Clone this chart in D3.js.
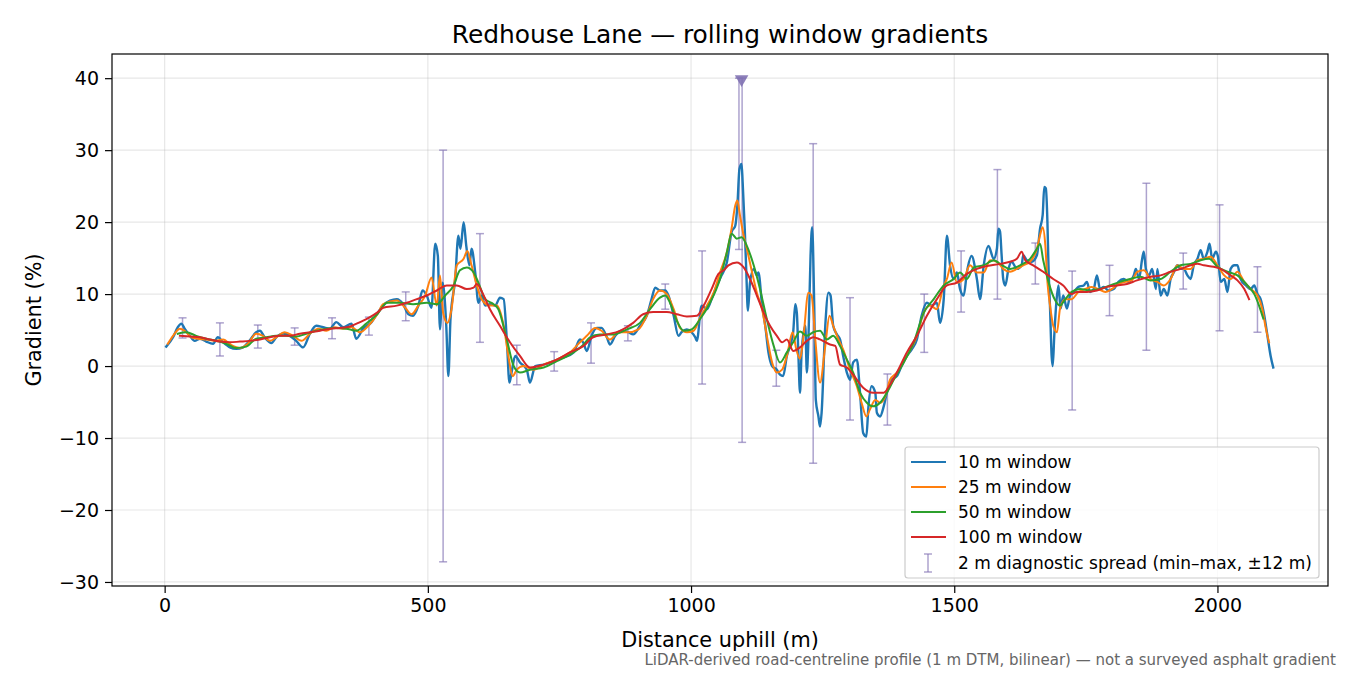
<!DOCTYPE html>
<html>
<head>
<meta charset="utf-8">
<script src="https://cdnjs.cloudflare.com/ajax/libs/d3/7.8.5/d3.min.js"></script>
<style>
body { margin: 0; background: #fff; }
text { font-family: "DejaVu Sans", sans-serif; }
</style>
</head>
<body>
<script>
// gradient (%) against distance uphill (m)
var win10 = [[3,2.7],[16,4.0],[25,5.4],[32,5.9],[38,5.2],[48,4.2],[57,3.5],[67,3.8],[79,3.4],[92,3.1],[101,4.0],[111,3.3],[124,2.6],[136,2.4],[149,2.6],[161,3.5],[174,4.7],[181,4.9],[190,4.0],[203,3.2],[212,4.0],[225,4.5],[238,4.2],[250,3.5],[263,2.6],[276,4.5],[288,5.6],[301,5.4],[314,5.2],[326,6.1],[339,5.4],[355,5.9],[364,3.8],[377,5.2],[393,6.1],
  [403,7.2],[415,8.4],[428,9.1],[441,9.3],[453,8.6],[463,7.2],[472,7.0],[482,8.4],[490,10.5],[498,9.8],[507,8.1],[514,17.0],[519,15.3],[523,5.1],[528,11.6],[535,5.6],[539,-1.4],[543,6.5],[552,12.1],[558,18.1],[562,16.3],[568,20.0],[573,16.7],[579,14.0],[583,16.3],[590,13.0],[596,8.8],[602,9.8],[609,8.4],[618,8.6],[628,8.4],[637,9.5],[644,9.3],[650,3.7],[655,-2.3],[659,-0.9],[666,1.4],[675,0.5],[688,-0.5],[694,-2.3],[704,0],[720,0.2],[739,0.7],[758,1.2],[777,1.9],
  [789,3.7],[795,3.3],[802,2.1],[811,4.2],[821,5.3],[830,5.3],[840,4.0],[846,3.0],[856,4.2],[868,4.9],[881,4.7],[890,4.4],[903,5.6],[916,7.0],[925,9.3],[932,10.9],[941,10.5],[951,10.5],[957,9.8],[967,7.0],[976,4.2],[982,4.7],[992,5.1],[1001,4.7],[1008,4.0],[1011,3.5],[1020,8.4],[1030,7.9],[1039,9.3],[1049,11.2],[1058,12.6],[1068,14.4],[1077,18.6],[1084,19.5],[1088,22.3],[1092,27.4],[1096,28.1],[1098,25.6],[1102,19.1],[1105,13.0],[1108,7.7],[1112,11.6],[1119,13.5],[1125,12.6],[1128,13.0],[1135,8.4],[1141,5.6],[1147,1.9],[1154,0],[1163,-0.5],
  [1169,-1.2],[1175,-1.4],[1182,1.4],[1188,2.8],[1194,4.7],[1198,8.6],[1201,7.4],[1204,1.4],[1207,-3.7],[1210,1.9],[1217,5.6],[1220,-0.9],[1223,3.7],[1227,15.3],[1230,19.3],[1234,8.4],[1237,-4.7],[1242,-7.0],[1245,-8.4],[1248,-6.5],[1255,5.6],[1261,10.2],[1265,9.8],[1270,5.6],[1277,4.4],[1283,3.7],[1289,1.4],[1296,-0.9],[1302,-1.9],[1308,0.5],[1315,0.9],[1321,-3.7],[1327,-9.3],[1333,-9.8],[1337,-5.6],[1343,-2.8],[1350,-3.7],[1353,-6.5],[1359,-7.0],[1366,-5.6],[1372,-3.7],[1381,-1.9],[1391,-1.4],[1400,0],[1410,1.4],[1419,2.3],[1429,3.7],[1438,7.0],[1448,8.8],[1457,8.4],[1467,8.8],[1473,6.0],[1480,9.3],[1486,18.1],[1492,14.0],[1499,12.1],[1505,13.0],[1511,10.7],[1518,9.8],[1524,13.0],[1533,15.3],[1543,12.1],[1549,9.3],[1556,14.0],[1565,16.7],[1575,14.9],
  [1581,16.3],[1584,19.1],[1587,18.7],[1590,15.4],[1593,12.1],[1597,11.2],[1603,13.5],[1609,14.5],[1619,13.5],[1628,14.0],[1631,15.4],[1638,14.7],[1647,14.5],[1657,15.4],[1663,19.1],[1668,21.0],[1671,24.9],[1674,24.7],[1677,20.0],[1679,14.0],[1682,8.0],[1685,1.4],[1687,0],[1690,4.2],[1694,8.9],[1698,11.2],[1702,8.0],[1707,9.8],[1714,8.0],[1720,9.8],[1727,10.3],[1736,11.0],[1746,11.2],[1752,11.7],[1758,10.3],[1765,10.7],[1771,12.6],[1777,10.7],[1784,11.0],[1793,10.5],[1803,10.7],[1812,11.7],[1822,12.1],[1831,11.7],[1841,12.6],
  [1845,13.5],[1851,12.1],[1857,14.9],[1860,15.9],[1864,13.5],[1870,12.6],[1876,13.5],[1883,10.7],[1886,13.5],[1892,9.8],[1898,10.7],[1905,9.8],[1911,12.1],[1917,13.0],[1924,14.0],[1930,13.5],[1936,13.5],[1943,12.6],[1949,12.1],[1955,14.0],[1962,14.9],[1968,16.1],[1974,14.9],[1981,15.9],[1985,17.0],[1990,14.9],[1997,15.9],[2001,15.2],[2006,11.7],[2013,12.1],[2019,10.3],[2025,13.5],[2032,14.0],[2038,14.0],[2044,12.1],[2054,11.2],[2063,10.7],[2070,11.2],[2076,10.0],[2082,9.3],[2089,7.0],[2095,4.2],[2101,1.4],[2106,-0.2]];

var win25 = [[6,3.1],[16,4.2],[29,5.2],[38,4.9],[51,4.0],[63,3.8],[79,3.7],[95,3.5],[111,3.7],[127,2.9],[143,2.5],[158,3.1],[174,4.5],[187,4.2],[200,3.5],[212,4.0],[228,4.7],[244,4.2],[260,3.5],[276,4.5],[292,5.2],[307,4.9],[323,5.4],[339,5.2],[355,5.4],[371,4.7],[387,5.6],
  [405,7.3],[415,8.6],[441,9.1],[457,8.1],[469,7.2],[482,8.4],[495,9.8],[507,12.3],[517,8.4],[523,12.6],[529,7.4],[537,6.0],[545,7.9],[555,14.0],[568,14.9],[575,16.0],[583,14.0],[593,11.2],[602,9.3],[618,8.4],[631,8.4],[644,5.6],[653,1.4],[661,-1.4],[669,-0.5],[682,0],[701,-0.5],[720,0.2],[745,0.9],[770,1.9],[789,3.3],
  [802,4.2],[818,5.3],[830,4.9],[846,3.7],[862,4.7],[881,4.7],[900,5.1],[916,7.0],[928,9.3],[941,10.5],[954,10.0],[967,7.9],[979,5.3],[992,4.7],[1005,4.9],[1017,6.7],[1030,8.4],[1043,10.2],[1055,13.0],[1068,15.8],[1077,19.1],[1084,22.3],[1088,23.0],[1093,20.9],[1100,18.1],[1106,16.3],[1116,13.0],[1125,10.2],[1135,7.9],[1144,4.2],[1154,0.5],[1163,-0.9],
  [1173,-0.5],[1182,1.4],[1193,4.7],[1200,2.3],[1207,1.0],[1213,3.7],[1223,10.2],[1229,9.8],[1236,3.7],[1245,-2.3],[1255,2.8],[1263,7.0],[1270,5.6],[1280,3.7],[1289,2.3],[1302,-0.5],[1315,-2.8],[1324,-5.1],[1333,-7.0],[1340,-6.0],[1350,-4.7],[1359,-5.1],[1369,-4.2],[1378,-1.9],[1391,-0.9],[1410,1.4],[1429,4.2],[1442,7.4],[1454,8.4],[1467,7.9],[1480,11.2],[1486,12.1],[1495,14.4],[1505,11.6],[1518,12.1],[1530,14.0],[1543,13.0],[1556,13.0],[1568,14.7],
  [1581,14.5],[1593,13.5],[1606,13.1],[1619,13.5],[1631,14.0],[1644,14.5],[1657,16.3],[1663,18.2],[1668,19.3],[1673,16.8],[1677,11.7],[1682,8.4],[1688,5.6],[1695,4.7],[1701,8.0],[1711,9.3],[1723,9.3],[1736,10.3],[1749,10.7],[1761,11.0],[1774,10.7],[1787,10.3],[1799,10.7],[1812,11.4],[1825,11.7],[1837,11.9],
  [1848,13.1],[1860,13.3],[1873,12.1],[1886,11.7],[1898,11.2],[1911,12.1],[1924,14.0],[1936,13.5],[1949,13.5],[1962,14.7],[1974,14.9],[1987,15.2],[2000,14.0],[2013,12.6],[2025,12.1],[2038,13.1],[2051,11.7],[2063,10.7],[2076,9.8],[2085,8.0],[2092,5.2],[2098,3.3]];

var win50 = [[25,4.5],[41,4.7],[60,4.2],[79,3.8],[98,3.5],[117,3.1],[136,2.5],[155,2.7],[174,3.8],[193,4.0],[212,4.2],[231,4.2],[250,4.1],[269,4.5],[288,4.9],[307,5.2],[326,5.3],[345,5.2],[364,4.9],[383,5.9],[405,7.3],
  [422,8.8],[447,8.8],[472,8.6],[498,8.8],[517,8.6],[533,9.8],[549,11.2],[561,13.3],[574,13.7],[587,13.0],[596,11.6],[609,9.3],[625,8.6],[634,7.9],[650,3.7],[663,0],[675,-0.9],[694,-0.5],[720,-0.2],[745,0.7],[770,1.6],[796,3.0],
  [808,4.0],[827,4.4],[852,4.4],[878,5.1],[903,6.0],[922,7.9],[941,9.5],[951,9.8],[960,8.8],[973,6.3],[986,4.9],[1001,5.1],[1017,6.5],[1036,8.8],[1055,12.1],[1068,15.8],[1077,18.4],[1087,17.7],[1096,17.9],[1106,16.7],[1119,14.0],[1131,10.7],[1144,6.5],[1157,2.8],[1169,0.5],
  [1182,1.9],[1194,3.3],[1207,4.8],[1220,4.2],[1232,4.7],[1245,4.9],[1258,3.7],[1270,4.2],[1283,2.8],[1296,0.9],[1308,-0.9],[1321,-3.7],[1334,-5.1],[1346,-5.6],[1359,-5.1],[1372,-3.7],[1385,-1.9],[1404,0.5],[1423,3.3],[1442,7.4],[1461,9.3],[1480,11.2],[1499,12.1],[1511,13.0],[1524,12.1],[1537,13.7],[1556,14.0],[1575,14.7],
  [1587,14.2],[1606,13.5],[1625,14.0],[1644,14.9],[1657,16.3],[1663,17.0],[1669,14.7],[1679,11.7],[1692,9.1],[1701,8.4],[1711,9.3],[1723,10.3],[1739,10.7],[1758,10.5],[1777,10.7],[1796,11.2],[1815,11.7],[1834,12.1],[1854,12.4],[1873,11.9],[1892,12.1],[1911,13.1],[1930,14.0],[1949,14.2],[1968,14.7],[1984,14.9],[2000,13.8],[2019,13.1],[2038,12.6],[2057,11.2],[2070,10.0],[2079,8.4],[2087,6.6]];

var win100 = [[29,4.2],[48,4.1],[67,4.0],[86,3.7],[105,3.4],[124,3.3],[143,3.4],[161,3.5],[181,3.7],[200,4.0],[219,4.2],[238,4.2],[257,4.5],[276,4.7],[295,4.9],[314,5.2],[333,5.3],[352,5.5],[371,6.1],[390,6.8],[405,7.5],
  [415,8.1],[441,8.4],[460,8.8],[479,9.3],[498,9.8],[517,10.5],[536,11.2],[555,11.2],[574,10.7],[587,10.9],[593,11.4],[606,9.8],[618,7.9],[637,5.6],[656,3.3],[675,1.4],[694,-0.2],[720,0.2],[745,0.9],[770,1.9],[796,2.8],
  [814,4.0],[840,4.4],[865,4.9],[890,6.0],[909,7.2],[928,7.5],[954,7.5],[973,7.2],[992,6.9],[1011,7.0],[1024,8.4],[1039,10.7],[1052,12.8],[1062,13.3],[1071,14.0],[1087,14.4],[1100,13.7],[1112,12.1],[1125,9.8],[1138,7.4],[1150,5.6],[1163,4.2],[1173,3.3],[1182,3.7],
  [1194,2.1],[1207,2.6],[1220,3.5],[1232,4.0],[1245,3.7],[1264,3.0],[1274,2.8],[1283,0.2],[1296,-0.2],[1308,-1.2],[1327,-3.0],[1346,-3.7],[1366,-3.7],[1378,-2.6],[1391,-0.9],[1410,1.9],[1429,4.2],[1448,7.0],[1467,9.3],[1486,11.2],[1505,11.6],[1524,12.8],[1543,13.5],[1562,13.9],
  [1587,14.2],[1606,14.5],[1619,14.9],[1628,15.9],[1635,14.7],[1650,14.0],[1669,13.1],[1688,12.1],[1707,11.2],[1723,10.0],[1733,10.3],[1752,10.3],[1771,10.5],[1790,11.0],[1809,11.2],[1828,11.4],[1847,11.9],[1873,12.4],[1892,12.6],[1911,13.1],[1930,13.5],[1949,14.0],[1962,14.2],[1974,14.0],[1993,13.8],[2006,13.5],[2025,12.6],[2038,11.9],[2051,10.7],[2060,9.3]];

// 2 m diagnostic spread: [distance, min, max]
var spread = [[34,3.9,6.7],[105,1.4,6.0],[177,2.5,5.7],[247,2.9,5.3],[318,3.8,6.7],[388,4.3,6.8],[458,6.3,10.3],[529,-27.2,30.0],[599,3.3,18.4],[669,-2.6,2.9],[740,-0.7,2.0],[810,0.4,6.0],[880,3.5,5.6],[951,7.9,11.4],[1021,-2.5,16.0],[1091,16.2,40],[1097,-10.6,40],[1162,-2.8,2.2],[1232,-13.5,30.9],[1302,-7.5,9.5],[1373,-8.2,-1.1],[1443,1.9,10.0],[1513,7.5,16.0],[1582,9.3,27.3],[1654,11.4,17.1],[1724,-6.1,13.2],[1795,7.0,14.0],[1865,2.2,25.4],[1935,10.7,15.7],[2004,4.9,22.4],[2076,4.7,13.8]];
var clippedTop = [1096];   // spread above the y limit, flagged with a marker at 40

var seriesNames = ["10 m window", "25 m window", "50 m window", "100 m window"];
var seriesColors = ["#1f77b4", "#ff7f0e", "#2ca02c", "#d62728"];
var seriesWidths = [2.4, 2.0, 2.0, 2.0];
var spreadLabel = "2 m diagnostic spread (min\u2013max, \u00b112 m)";
var xTicks = [0, 500, 1000, 1500, 2000];
var yTicks = [-30, -20, -10, 0, 10, 20, 30, 40];

var W = 1350, H = 675;
var mL = 112, mR = 1328, mT = 54, mB = 586;

var svg = d3.select("body").append("svg")
    .attr("width", W)
    .attr("height", H);

var x = d3.scaleLinear().domain([-100, 2210]).range([mL, mR]);
var y = d3.scaleLinear().domain([-30.56, 43.36]).range([mB, mT]);

svg.append("defs").append("clipPath").attr("id", "plotclip")
  .append("rect").attr("x", mL).attr("y", mT).attr("width", mR - mL).attr("height", mB - mT);

// grid
var grid = svg.append("g");
grid.selectAll(".gx").data(xTicks).enter().append("line")
    .attr("x1", d => x(d)).attr("x2", d => x(d))
    .attr("y1", mT).attr("y2", mB)
    .attr("stroke", "#b0b0b0").attr("stroke-opacity", 0.3).attr("stroke-width", 1.2);
grid.selectAll(".gy").data(yTicks).enter().append("line")
    .attr("x1", mL).attr("x2", mR)
    .attr("y1", d => y(d)).attr("y2", d => y(d))
    .attr("stroke", "#b0b0b0").attr("stroke-opacity", 0.3).attr("stroke-width", 1.2);

var plot = svg.append("g").attr("clip-path", "url(#plotclip)");

// error bars
var ebColor = "#8172b3";
var eb = plot.append("g").attr("stroke", ebColor).attr("stroke-opacity", 0.65).attr("stroke-width", 1.5);
spread.forEach(function(s) {
  var cx = x(s[0]);
  eb.append("line").attr("x1", cx).attr("x2", cx).attr("y1", y(s[1])).attr("y2", y(s[2]));
  eb.append("line").attr("x1", cx - 4).attr("x2", cx + 4).attr("y1", y(s[1])).attr("y2", y(s[1]));
  eb.append("line").attr("x1", cx - 4).attr("x2", cx + 4).attr("y1", y(s[2])).attr("y2", y(s[2]));
});

// lines
var line = d3.line().x(d => x(d[0])).y(d => y(d[1])).curve(d3.curveMonotoneX);
[win10, win25, win50, win100].forEach(function(data, i) {
  plot.append("path")
    .datum(data)
    .attr("d", line)
    .attr("fill", "none")
    .attr("stroke", seriesColors[i])
    .attr("stroke-width", seriesWidths[i])
    .attr("stroke-linejoin", "round")
    .attr("stroke-linecap", "square");
});

// clipped markers
plot.selectAll(".clip").data(clippedTop).enter().append("path")
    .attr("d", d3.symbol().type(d3.symbolTriangle).size(80))
    .attr("transform", d => "translate(" + x(d) + "," + (y(40) + 1) + ") rotate(180)")
    .attr("fill", ebColor).attr("fill-opacity", 0.9);

// axes
var xAxis = svg.append("g")
    .attr("transform", "translate(0," + mB + ")")
    .call(d3.axisBottom(x).tickValues(xTicks).tickSize(7).tickPadding(6).tickSizeOuter(0).tickFormat(d3.format("d")));
var yAxis = svg.append("g")
    .attr("transform", "translate(" + mL + ",0)")
    .call(d3.axisLeft(y).tickValues(yTicks).tickSize(7).tickPadding(6).tickSizeOuter(0)
      .tickFormat(d => (d < 0 ? "\u2212" + Math.abs(d) : d)));
[xAxis, yAxis].forEach(function(a) {
  a.select(".domain").remove();
  a.selectAll(".tick line").attr("stroke", "#000").attr("stroke-width", 1.2);
  a.selectAll(".tick text").attr("font-size", 19).attr("fill", "#000").style("font-family", "DejaVu Sans");
});

svg.append("rect")
    .attr("x", mL).attr("y", mT).attr("width", mR - mL).attr("height", mB - mT)
    .attr("fill", "none").attr("stroke", "#000").attr("stroke-width", 1.2);

// titles
svg.append("text").attr("x", (mL + mR) / 2).attr("y", 43)
    .attr("text-anchor", "middle").attr("font-size", 24.9)
    .text("Redhouse Lane \u2014 rolling window gradients");
svg.append("text").attr("x", (mL + mR) / 2).attr("y", 647)
    .attr("text-anchor", "middle").attr("font-size", 20.8)
    .text("Distance uphill (m)");
svg.append("text").attr("transform", "translate(41," + ((mT + mB) / 2) + ") rotate(-90)")
    .attr("text-anchor", "middle").attr("font-size", 20.8)
    .text("Gradient (%)");
svg.append("text").attr("x", 1336).attr("y", 665)
    .attr("text-anchor", "end").attr("font-size", 15).attr("fill", "#666")
    .text("LiDAR-derived road-centreline profile (1 m DTM, bilinear) \u2014 not a surveyed asphalt gradient");

// legend
var lg = svg.append("g");
lg.append("rect").attr("x", 905).attr("y", 447).attr("width", 414).attr("height", 131)
    .attr("rx", 3).attr("fill", "#fff").attr("fill-opacity", 0.8)
    .attr("stroke", "#cccccc").attr("stroke-width", 1.2);
var rowY = [462, 487, 512, 537, 563];
seriesNames.forEach(function(n, i) {
  lg.append("line").attr("x1", 911).attr("x2", 946).attr("y1", rowY[i]).attr("y2", rowY[i])
    .attr("stroke", seriesColors[i]).attr("stroke-width", 2.2);
  lg.append("text").attr("x", 958).attr("y", rowY[i]).attr("dy", "0.35em")
    .attr("font-size", 17).text(n);
});
var ly = rowY[4];
var lgEb = lg.append("g").attr("stroke", ebColor).attr("stroke-opacity", 0.65).attr("stroke-width", 1.5);
lgEb.append("line").attr("x1", 928).attr("x2", 928).attr("y1", ly - 9).attr("y2", ly + 9);
lgEb.append("line").attr("x1", 924).attr("x2", 932).attr("y1", ly - 9).attr("y2", ly - 9);
lgEb.append("line").attr("x1", 924).attr("x2", 932).attr("y1", ly + 9).attr("y2", ly + 9);
lg.append("text").attr("x", 958).attr("y", ly).attr("dy", "0.35em")
    .attr("font-size", 17).text(spreadLabel);
</script>
</body>
</html>
